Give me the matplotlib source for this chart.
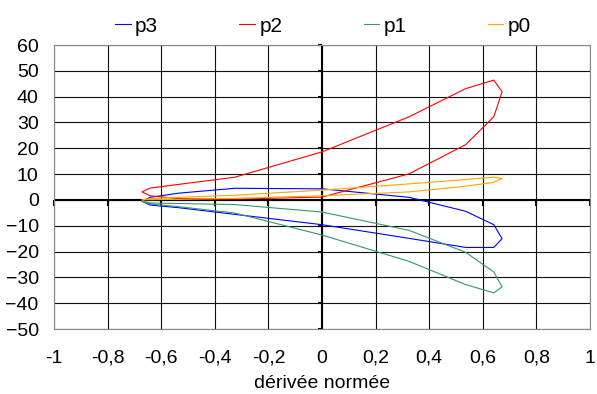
import numpy as np
import matplotlib
matplotlib.use("Agg")
import matplotlib.pyplot as plt

plt.rcParams['font.family'] = ['Liberation Sans', 'DejaVu Sans']

# x samples of the closed loops (same for all series)
deriv = [0, 0.325, 0.536, 0.641, 0.672, 0.641, 0.536, 0.325, 0,
         -0.325, -0.536, -0.641, -0.672, -0.641, -0.536, -0.325, 0]

p3 = [4.3, 1.0, -4.4, -9.6, -15.0, -18.4, -18.4, -14.9, -9.6,
      -5.6, -3.0, -2.0, -0.5, 1.0, 2.6, 4.5, 4.3]
p2 = [18.6, 32.2, 43.1, 46.4, 41.9, 32.2, 21.4, 10.1, 1.1,
      0.3, 0.5, 1.6, 3.1, 4.6, 6.0, 8.8, 18.6]
p1 = [-4.7, -11.8, -20.3, -27.9, -33.7, -36.0, -32.8, -23.8, -13.6,
      -5.1, -2.6, -1.6, -0.5, -1.2, -1.4, -1.8, -4.7]
p0 = [3.8, 6.2, 7.9, 8.8, 8.3, 6.8, 5.3, 3.1, 1.6,
      0.6, 0.2, 0.1, 0.0, 0.5, 1.0, 1.8, 3.8]

series = [("p3", p3, "#0000ff"), ("p2", p2, "#ff0000"),
          ("p1", p1, "#339966"), ("p0", p0, "#ffa500")]

xticks = np.arange(-1, 1.01, 0.2)
xlabels = ["-1", "-0,8", "-0,6", "-0,4", "-0,2", "0", "0,2", "0,4", "0,6", "0,8", "1"]
yticks = np.arange(-50, 61, 10)

fig = plt.figure(figsize=(5.97, 3.94), dpi=100)
ax = fig.add_axes([54 / 597, 1 - 329 / 394, 536 / 597, 284 / 394])

for name, vals, col in series:
    ax.plot(deriv, vals, color=col, lw=0.8, label=name, zorder=3)

ax.set_xlim(-1, 1)
ax.set_ylim(-50, 60)
ax.set_xticks(xticks)
ax.set_xticklabels(xlabels)
ax.set_yticks(yticks)
ax.tick_params(length=0, labelsize=14)
ax.tick_params(axis='x', pad=15)
ax.tick_params(axis='y', pad=11)
ax.grid(True, color='#111111', lw=0.8)
for s in ax.spines.values():
    s.set_color('#888888')
    s.set_linewidth(0.8)

# axes through the origin with small tick marks
ax.axhline(0, color='black', lw=1.5, zorder=2)
ax.axvline(0, color='black', lw=1.5, zorder=2)
ax.plot(xticks, np.zeros_like(xticks), ls='none', marker=3, ms=4,
        mew=1.5, color='black', zorder=2, clip_on=False)
ax.plot(np.zeros_like(yticks), yticks, ls='none', marker=0, ms=3,
        mew=1.5, color='black', zorder=2, clip_on=False)

ax.set_xlabel("dérivée normée", fontsize=14, labelpad=6)

h, l = ax.get_legend_handles_labels()
fig.legend(h, l, loc='center', bbox_to_anchor=(323 / 597, 1 - 26 / 394),
           ncol=4, frameon=False, fontsize=15, handlelength=0.75,
           handletextpad=0.2, columnspacing=3.9)

fig.savefig("out.png", dpi=100)
